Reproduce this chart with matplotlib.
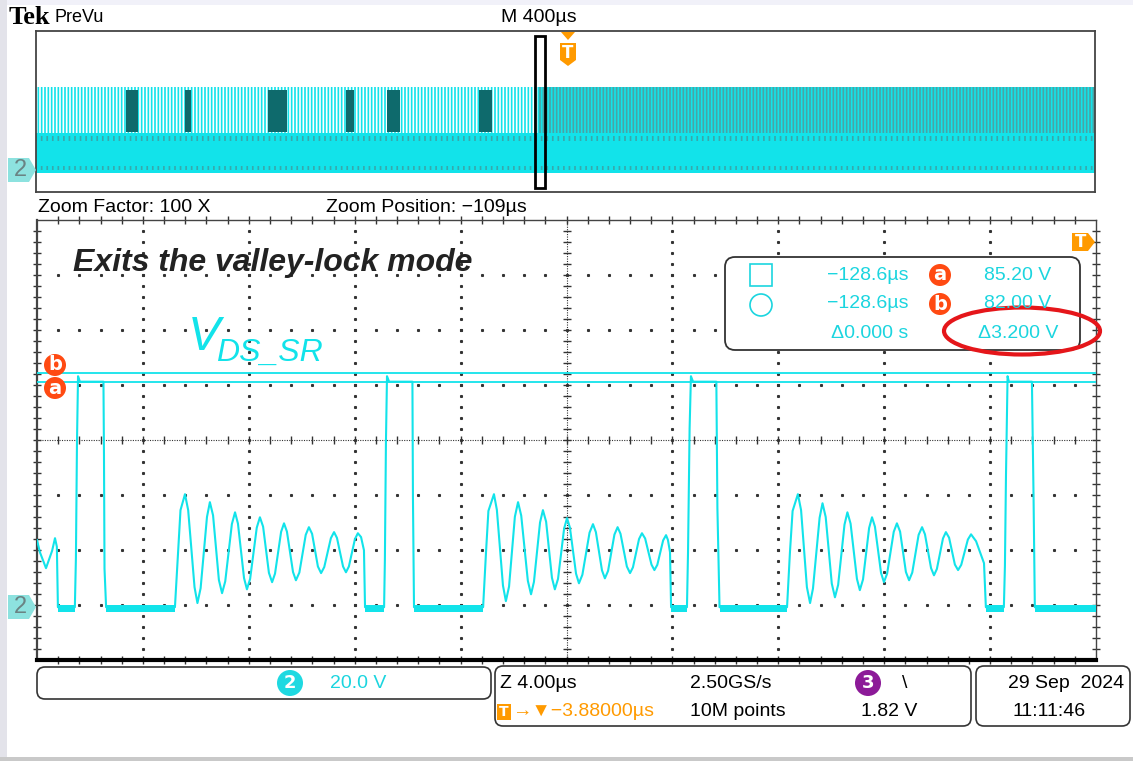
import numpy as np
import matplotlib
matplotlib.use('Agg')
import matplotlib.pyplot as plt
from matplotlib.patches import Rectangle, FancyBboxPatch, Ellipse, Polygon, Circle

# ---- values ----
# zoomed channel 2 trace, time in us / voltage in V, split by switching cycle
pulse1_t = [-129.00, -128.89, -128.66, -128.43, -128.32, -128.25, -128.21, -127.57, -127.53, -127.49,
            -127.45, -127.38, -126.49, -126.47, -126.45, -126.39]
pulse1_v = [24.4, 20.0, 14.2, 20.5, 25.1, 22.0, 0.0, 0.0, 18.0, 60.0,
            84.0, 82.0, 82.0, 55.0, 14.0, 0.0]
ring1_t = [-123.79, -123.67, -123.58, -123.41, -123.29, -123.05, -122.94, -122.82, -122.58, -122.47,
           -122.35, -122.13, -122.01, -121.89, -121.64, -121.52, -121.41, -121.18, -121.07, -120.95,
           -120.70, -120.58, -120.46, -120.24, -120.12, -120.01, -119.78, -119.67, -119.56, -119.33,
           -119.22, -119.09, -118.85, -118.73, -118.61, -118.39, -118.27, -118.15, -117.90, -117.78,
           -117.67, -117.44, -117.33, -117.22, -116.99, -116.88, -116.76, -116.65, -116.61]
ring1_v = [0.0, 20.4, 35.3, 41.1, 35.3, 7.3, 1.5, 6.9, 32.8, 38.2,
           33.4, 9.9, 5.1, 9.4, 30.2, 34.5, 30.4, 10.6, 6.5, 10.3,
           28.9, 32.7, 29.3, 12.5, 9.1, 12.2, 27.4, 30.5, 27.5, 12.8,
           9.8, 12.6, 26.3, 29.1, 26.7, 14.8, 12.4, 14.6, 25.1, 27.3,
           25.2, 14.8, 12.7, 14.8, 24.8, 26.9, 25.5, 20.7, 0.0]
pulse2_t = [-115.89, -115.86, -115.82, -115.78, -115.70, -114.82, -114.80, -114.76]
pulse2_v = [0.0, 17.0, 60.0, 84.0, 82.0, 82.0, 40.0, 0.0]
ring2_t = [-112.15, -112.04, -111.95, -111.74, -111.63, -111.40, -111.29, -111.17, -110.95, -110.83,
           -110.71, -110.46, -110.34, -110.23, -110.00, -109.89, -109.77, -109.55, -109.44, -109.32,
           -109.09, -108.98, -108.87, -108.64, -108.53, -108.40, -108.13, -108.00, -107.89, -107.66,
           -107.55, -107.43, -107.19, -107.07, -106.96, -106.72, -106.60, -106.49, -106.26, -106.15,
           -106.03, -105.79, -105.68, -105.57, -105.35, -105.24, -105.17, -105.09, -105.05]
ring2_v = [0.0, 20.0, 35.0, 41.1, 35.4, 7.9, 2.2, 7.5, 32.9, 38.2,
           33.3, 9.6, 4.7, 9.2, 30.8, 35.3, 31.1, 10.7, 6.5, 10.3,
           28.6, 32.4, 28.9, 12.2, 8.7, 11.8, 27.1, 30.2, 27.3, 13.4,
           10.5, 13.2, 26.4, 29.1, 26.7, 14.8, 12.4, 14.5, 24.8, 26.9,
           25.0, 15.5, 13.5, 15.4, 24.3, 26.2, 24.5, 20.0, 0.0]
pulse3_t = [-104.45, -104.41, -104.35, -104.30, -104.22, -103.34, -103.30, -103.22]
pulse3_v = [0.0, 20.0, 65.0, 84.0, 82.0, 82.0, 36.0, 0.0]
ring3_t = [-100.67, -100.56, -100.46, -100.26, -100.14, -99.92, -99.80, -99.69, -99.44, -99.33,
           -99.21, -98.98, -98.86, -98.74, -98.50, -98.39, -98.27, -98.03, -97.92, -97.80,
           -97.57, -97.46, -97.35, -97.12, -97.01, -96.89, -96.64, -96.52, -96.40, -96.18,
           -96.06, -95.94, -95.70, -95.57, -95.46, -95.23, -95.12, -95.01, -94.78, -94.67,
           -94.55, -94.33, -94.21, -94.09, -93.84, -93.72, -93.53, -93.23, -93.16]
ring3_v = [0.0, 20.0, 35.0, 41.1, 35.3, 7.3, 1.5, 6.8, 32.5, 37.8,
           32.8, 8.6, 3.6, 8.1, 30.0, 34.5, 30.4, 10.3, 6.2, 10.1,
           28.8, 32.7, 29.3, 12.5, 9.1, 12.2, 27.4, 30.5, 27.5, 12.8,
           9.8, 12.6, 26.3, 29.1, 26.5, 14.2, 11.6, 13.9, 25.0, 27.3,
           25.3, 15.5, 13.5, 15.4, 24.6, 26.5, 24.0, 16.0, 0.0]
pulse4_t = [-92.48, -92.44, -92.40, -92.34, -92.29, -91.42, -91.36, -91.31, -89.00]
pulse4_v = [0.0, 15.0, 48.0, 84.0, 82.0, 82.0, 41.0, 0.0, 0.0]

# flat "off" parts of the trace, drawn as a noisy band around 0 V
low_spans = [(-128.21, -127.57), (-126.39, -123.79), (-116.61, -115.89), (-114.76, -112.15),
             (-105.05, -104.45), (-103.22, -100.67), (-93.16, -92.48), (-91.31, -89.00)]
low_band_v = (-1.6, 0.9)

cursor_a_v = 85.2
cursor_b_v = 82.0

zoom_pos_us = -109.0
zoom_div_us = 4.0
volt_div = 20.0
ground_div = -3.04

# PreVu (whole record, 400 us/div)
prevu_div_us = 400.0
prevu_ring_v = (0.0, 39.0)
prevu_pulse_v = (39.0, 85.0)
prevu_dense_from_us = -100.0
prevu_dark_blocks_us = [(-1660, -1615), (-1437, -1415), (-1124, -1052),
                        (-829, -799), (-674, -625), (-327, -278)]
prevu_streaks_v = [(31, 36), (3, 7)]

meas_time = ['\u2212128.6\u00b5s', '\u2212128.6\u00b5s', '\u03940.000 s']
meas_volt = ['85.20 V', '82.00 V', '\u03943.200 V']

CYAN = '#12e3ea'
TCYAN = '#1bd5df'
DTEAL = '#0e6a6c'
ORANGE = '#ff9a00'
CRED = '#ff4a12'
NARROW = ['Liberation Sans Narrow', 'Liberation Sans', 'DejaVu Sans']

fig = plt.figure(figsize=(11.33, 7.61), dpi=100)
W, H = 1133, 761


def px_axes(x0, y0, x1, y1):
    return fig.add_axes([x0 / W, 1 - y1 / H, (x1 - x0) / W, (y1 - y0) / H])


ylim = (-ground_div * volt_div - 4 * volt_div, -ground_div * volt_div + 4 * volt_div)

# ---------- main (zoomed) window ----------
ax = px_axes(37, 220, 1096, 660)
ax.set_xlim(zoom_pos_us - 5 * zoom_div_us, zoom_pos_us + 5 * zoom_div_us)
ax.set_ylim(*ylim)
ax.set_xticks([])
ax.set_yticks([])
for s in ['top', 'left', 'right']:
    ax.spines[s].set_color('#444444')
    ax.spines[s].set_linewidth(1.0)
ax.spines['left'].set_linewidth(1.6)
ax.spines['bottom'].set_color('black')
ax.spines['bottom'].set_linewidth(3)

# graticule (axes fraction: 10 x 8 divisions, 5 minor steps each)
T = ax.transAxes
gc = '#333333'
xm = np.arange(1, 50) / 50
ym = np.arange(1, 40) / 40
for k in range(1, 10):
    if k != 5:
        ax.plot(np.full(39, k / 10), ym, ls='none', marker='s', ms=1.2, color=gc, transform=T)
for j in range(1, 8):
    if j != 4:
        ax.plot(xm, np.full(49, j / 8), ls='none', marker='s', ms=1.2, color=gc, transform=T)
ax.plot([0, 1], [0.5, 0.5], ls=(0, (1, 1.2)), lw=0.8, color=gc, transform=T)
ax.plot([0.5, 0.5], [0, 1], ls=(0, (1, 1.2)), lw=0.8, color=gc, transform=T)
ax.plot(xm, np.full(49, 0.5), ls='none', marker='|', ms=6, mew=1, color=gc, transform=T)
ax.plot(np.full(39, 0.5), ym, ls='none', marker='_', ms=6, mew=1, color=gc, transform=T)
for yy in (0.0, 1.0):
    ax.plot(xm, np.full(49, yy), ls='none', marker='|', ms=6, mew=1, color=gc, transform=T, clip_on=False)
for xx in (0.0, 1.0):
    ax.plot(np.full(39, xx), ym, ls='none', marker='_', ms=6, mew=1, color=gc, transform=T, clip_on=False)

trace_t = pulse1_t + ring1_t + pulse2_t + ring2_t + pulse3_t + ring3_t + pulse4_t
trace_v = pulse1_v + ring1_v + pulse2_v + ring2_v + pulse3_v + ring3_v + pulse4_v
for a, b in low_spans:
    ax.fill_between([a, b], low_band_v[0], low_band_v[1], color=CYAN, lw=0, zorder=3)
ax.plot(trace_t, trace_v, color=CYAN, lw=1.5, zorder=4, solid_joinstyle='round')
ax.axhline(cursor_a_v, color=CYAN, lw=1.3, zorder=4)
ax.axhline(cursor_b_v, color=CYAN, lw=1.3, zorder=4)

# ---------- PreVu window ----------
pv = px_axes(36, 31, 1095, 192)
pv.set_xlim(-5 * prevu_div_us, 5 * prevu_div_us)
pv.set_ylim(*ylim)
pv.set_xticks([])
pv.set_yticks([])
for s in pv.spines.values():
    s.set_color('#444444')
    s.set_linewidth(1.3)
plt.rcParams['hatch.linewidth'] = 1.2
x0, x1 = pv.get_xlim()
pv.fill_between([x0, prevu_dense_from_us], *prevu_pulse_v, facecolor='white', edgecolor=CYAN,
                hatch='|||||', lw=0)
pv.fill_between([prevu_dense_from_us, x1], *prevu_pulse_v, facecolor='#4aa3a5', edgecolor=CYAN,
                hatch='|||||', lw=0)
for a, b in prevu_dark_blocks_us:
    pv.fill_between([a, b], prevu_pulse_v[0] + 1, prevu_pulse_v[1] - 3, color=DTEAL, lw=0)
pv.fill_between([x0, x1], *prevu_ring_v, color=CYAN, lw=0)
# faint darker streaks inside the ringing band
for lo, hi in prevu_streaks_v:
    pv.fill_between([x0, x1], lo, hi, facecolor='none', edgecolor='#36a9ac', hatch='|||', lw=0)

# ---------- overlay in pixel units ----------
ov = fig.add_axes([0, 0, 1, 1], zorder=10)
ov.set_xlim(0, W)
ov.set_ylim(H, 0)
ov.axis('off')
ov.patch.set_alpha(0)

ov.add_patch(Rectangle((0, 0), W, 5, color='#f1f1f9', lw=0))
ov.add_patch(Rectangle((0, 0), 7, H, color='#e3e3ea', lw=0))
ov.add_patch(Rectangle((0, 757), W, 4, color='#c9c9c9', lw=0))

ov.text(9, 18, 'Tek', family='Liberation Serif', weight='bold', size=19, va='center')
ov.text(54, 18, 'PreVu', family=NARROW, size=13, va='center')
ov.text(501, 18, 'M 400\u00b5s', family=NARROW, size=14, va='center')
ov.text(38, 207, 'Zoom Factor: 100 X', family=NARROW, size=14, va='center')
ov.text(326, 207, 'Zoom Position: \u2212109\u00b5s', family=NARROW, size=14, va='center')

# zoom window box and trigger marks in PreVu
ov.add_patch(Rectangle((535, 36), 10, 152, fill=False, ec='black', lw=2))
ov.add_patch(Polygon([(561, 32), (575, 32), (568, 40)], color=ORANGE, lw=0))
ov.add_patch(Polygon([(560, 43), (576, 43), (576, 60), (568, 66), (560, 60)], color=ORANGE, lw=0))
ov.text(568, 53, 'T', color='white', weight='bold', size=12, ha='center', va='center')
ov.add_patch(Polygon([(1072, 233), (1088, 233), (1095, 242), (1088, 251), (1072, 251)], color=ORANGE, lw=0))
ov.text(1081, 242, 'T', color='white', weight='bold', size=12, ha='center', va='center')

# channel 2 ground markers
for yc in (170, 607):
    ov.add_patch(Polygon([(8, yc - 12), (29, yc - 12), (36, yc), (29, yc + 12), (8, yc + 12)],
                         color='#8de2df', lw=0))
    ov.text(20, yc, '2', family=NARROW, size=17, color='#6a8383', ha='center', va='center')

# cursor labels
for lab, yc in (('b', 365), ('a', 388)):
    ov.add_patch(Circle((55, yc), 11, color=CRED, lw=0))
    ov.text(55, yc, lab, color='white', weight='bold', size=14, ha='center', va='center')

ov.text(73, 263, 'Exits the valley-lock mode', family='Liberation Sans', weight='bold', style='italic',
        size=23, color='#222222', va='center')
ov.text(188, 350, 'V', family='Liberation Sans', style='italic', size=35, color=CYAN, va='baseline')
ov.text(216, 361, 'DS_SR', family='Liberation Sans', style='italic', size=23, color=CYAN, va='baseline')

# cursor readout box
ov.add_patch(FancyBboxPatch((725, 257), 355, 93, boxstyle='round,pad=0,rounding_size=10',
                            fc='white', ec='#333333', lw=1.3))
ov.add_patch(Rectangle((750, 264), 22, 22, fill=False, ec=TCYAN, lw=1.2))
ov.add_patch(Circle((761, 305), 11, fill=False, ec=TCYAN, lw=1.2))
for i, yc in enumerate((275, 304, 334)):
    ov.text(908, yc, meas_time[i], family=NARROW, size=14, color=TCYAN, ha='right', va='center')
    ov.text(1051 + (7 if i == 2 else 0), yc, meas_volt[i], family=NARROW, size=14, color=TCYAN,
            ha='right', va='center')
for lab, yc in (('a', 275), ('b', 304)):
    ov.add_patch(Circle((940, yc), 11, color=CRED, lw=0))
    ov.text(940, yc, lab, color='white', weight='bold', size=14, ha='center', va='center')
ov.add_patch(Ellipse((1022, 331), 156, 47, fill=False, ec='#e5161a', lw=3))

# status bar
for (bx, by, bw, bh) in ((37, 667, 454, 32), (495, 666, 476, 60), (976, 666, 154, 60)):
    ov.add_patch(FancyBboxPatch((bx, by), bw, bh, boxstyle='round,pad=0,rounding_size=8',
                                fc='white', ec='#333333', lw=1.2))
ov.add_patch(Circle((290, 683), 13, color='#1fd9e1', lw=0))
ov.text(290, 683, '2', color='white', weight='bold', size=13, ha='center', va='center')
ov.text(330, 683, '20.0 V', family=NARROW, size=14, color=TCYAN, va='center')
ov.text(500, 683, 'Z 4.00\u00b5s', family=NARROW, size=14, va='center')
ov.add_patch(Rectangle((497, 704), 14, 16, color=ORANGE, lw=0))
ov.text(504, 712, 'T', color='white', weight='bold', size=10, ha='center', va='center')
ov.text(512, 712, '\u2192\u25bc\u22123.88000\u00b5s', family=NARROW, size=14, color=ORANGE, va='center')
ov.text(690, 683, '2.50GS/s', family=NARROW, size=14, va='center')
ov.text(690, 712, '10M points', family=NARROW, size=14, va='center')
ov.add_patch(Circle((868, 683), 13, color='#8c1a98', lw=0))
ov.text(868, 683, '3', color='white', weight='bold', size=13, ha='center', va='center')
ov.text(902, 683, '\\', family=NARROW, size=14, va='center')
ov.text(861, 712, '1.82 V', family=NARROW, size=14, va='center')
ov.text(1124, 683, '29 Sep  2024', family=NARROW, size=14, ha='right', va='center')
ov.text(1013, 712, '11:11:46', family=NARROW, size=14, va='center')

fig.savefig('out.png', dpi=100)
